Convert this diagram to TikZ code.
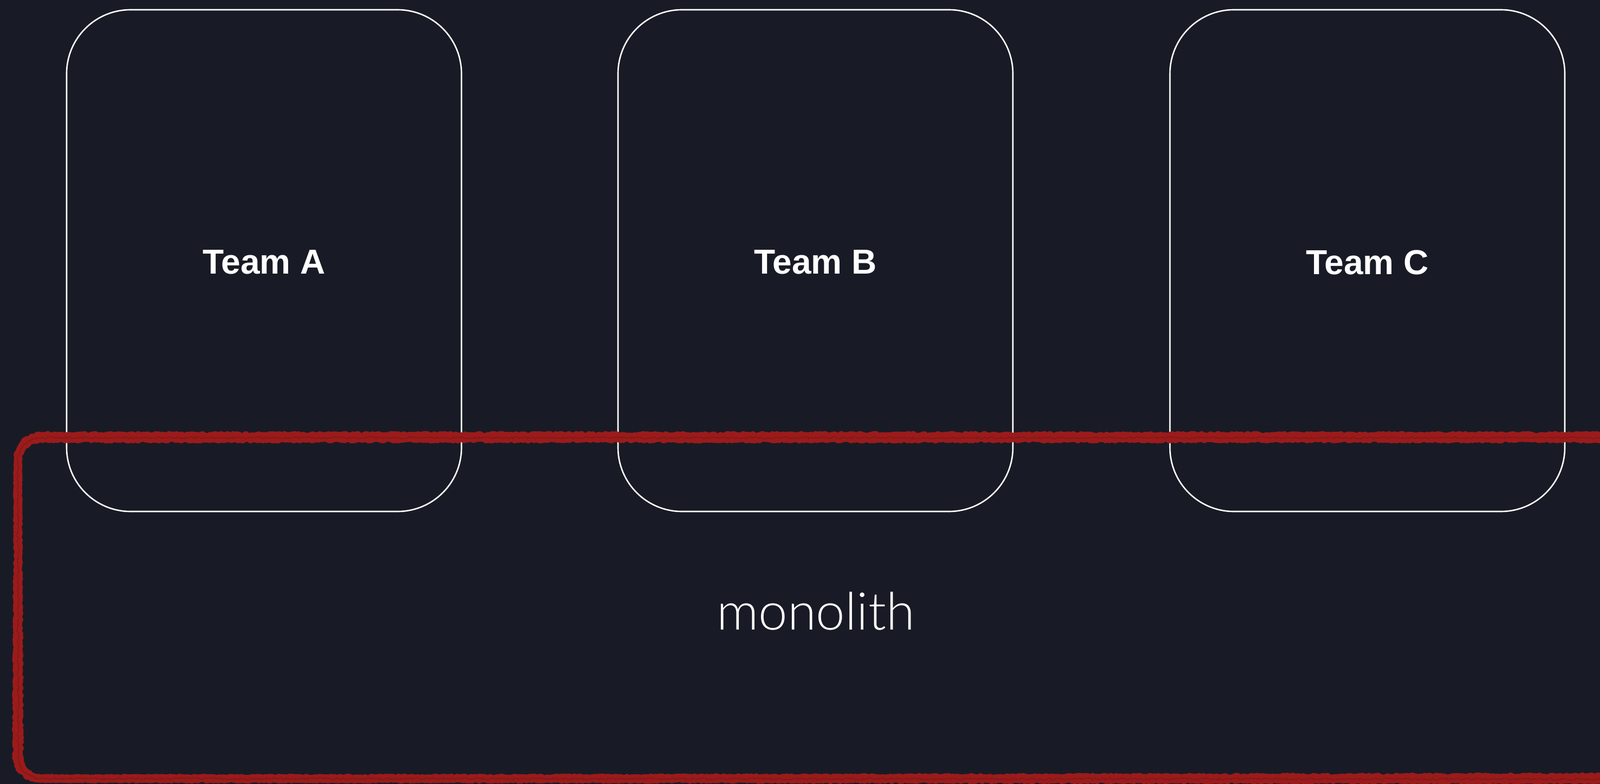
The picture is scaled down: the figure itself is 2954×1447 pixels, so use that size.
\documentclass[tikz,border=0pt]{standalone}
\usepackage{fontspec}
\setmainfont{Liberation Sans}
\newfontfamily\lightfont{Lato}[UprightFont=* Light]
\usetikzlibrary{decorations.pathmorphing}
\definecolor{bg}{HTML}{181B25}
\definecolor{chalk}{HTML}{9B1B1B}
\definecolor{chalkdark}{HTML}{861819}
\tikzset{
  teambox/.style={draw=white, line width=2.6pt, rounded corners=118pt,
    minimum width=729pt, minimum height=926pt, inner sep=0pt},
  teamlabel/.style={text=white, font=\fontsize{64}{76}\selectfont\bfseries},
  chalkline/.style={draw=chalk, line cap=round, line join=round,
    decorate, decoration={random steps, segment length=3pt, amplitude=2pt}},
}
\begin{document}
\begin{tikzpicture}[x=1pt,y=-1pt]
\fill[bg] (0,0) rectangle (2954,1447);
\useasboundingbox (0,0) rectangle (2954,1447);
\node[teambox] (A) at (487.5,481) {};
\node[teambox] (B) at (1505.5,481) {};
\node[teambox] (C) at (2524.5,481) {};
\node[teamlabel] (la) at (487.5,484) {Team A};
\node[teamlabel] (lb) at (1505.5,484) {Team B};
\node[teamlabel] (lc) at (2524.5,484) {Team C};
\node[text=white, font=\fontsize{96}{110}\selectfont\lightfont, anchor=base] (mono) at (1506,1162) {monolith};
% rough red monolith outline
\foreach \w/\d/\c in {13/-3/chalk, 13/3/chalk, 14/0/chalk, 2/1/chalkdark} {
  \draw[chalkline, draw=\c, line width=\w pt]
    (2975,807+\d) -- (75,807+\d) arc[start angle=-90, end angle=-180, radius=42]
    -- (33+\d,1395) arc[start angle=180, end angle=90, radius=42] -- (2975,1437+\d);
}
\end{tikzpicture}
\end{document}
